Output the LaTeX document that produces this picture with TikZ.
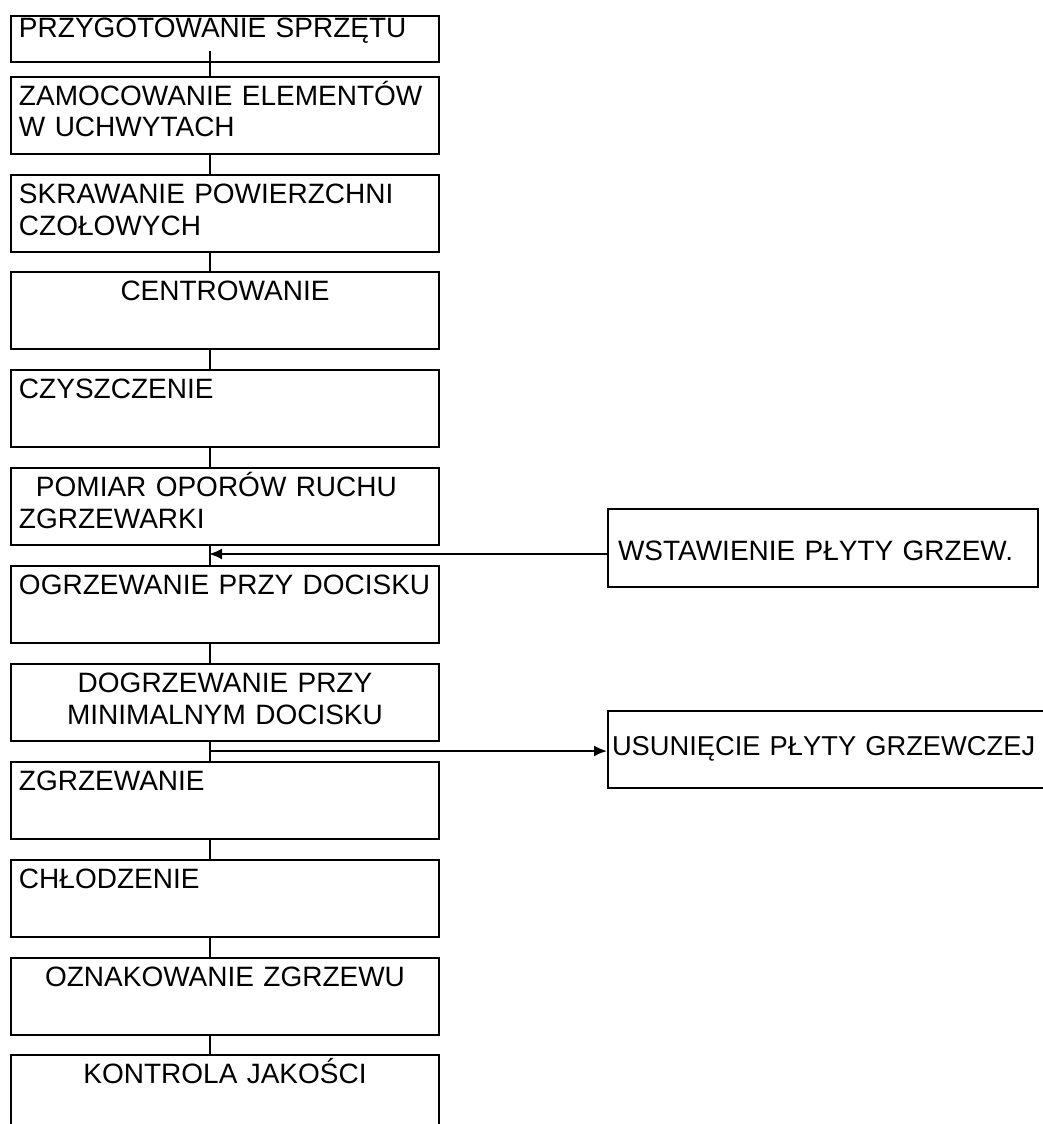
\documentclass[tikz,border=0pt]{standalone}
\usepackage{fontspec}
\setmainfont{Liberation Sans}
\usetikzlibrary{arrows.meta}

\tikzset{
  stepbox/.style={draw, line width=2pt, anchor=north west, inner xsep=8pt, inner ysep=0pt,
    text width=412pt, minimum width=428pt, align=left, text height=28pt, text depth=49pt,
    font=\fontsize{28}{32}\selectfont},
  conn/.style={line width=1.6pt},
  side/.style={line width=2pt, -{Latex[length=13pt,width=11pt]}}
}

\begin{document}
\begin{tikzpicture}[x=1pt,y=-1pt]
\useasboundingbox (0,0) rectangle (1043,1124);

\node[stepbox, text height=22pt, text depth=24pt] (s1) at (10,15) {PRZYGOTOWANIE SPRZĘTU};
\node[stepbox] (s2) at (10,76) {ZAMOCOWANIE ELEMENTÓW\\W UCHWYTACH};
\node[stepbox] (s3) at (10,174) {SKRAWANIE POWIERZCHNI\\CZOŁOWYCH};
\node[stepbox, align=center] (s4) at (10,271) {CENTROWANIE};
\node[stepbox] (s5) at (10,369) {CZYSZCZENIE};
\node[stepbox] (s6) at (10,467) {\hspace*{17pt}POMIAR OPORÓW RUCHU\\ZGRZEWARKI};
\node[stepbox] (s7) at (10,565) {OGRZEWANIE PRZY DOCISKU};
\node[stepbox, align=center] (s8) at (10,663) {DOGRZEWANIE PRZY\\MINIMALNYM DOCISKU};
\node[stepbox] (s9) at (10,761) {ZGRZEWANIE};
\node[stepbox] (s10) at (10,859) {CHŁODZENIE};
\node[stepbox, align=center] (s11) at (10,957) {OZNAKOWANIE ZGRZEWU};
\node[stepbox, align=center] (s12) at (10,1054) {KONTROLA JAKOŚCI};

\node[stepbox, text width=410pt, minimum width=430pt, inner xsep=10pt,
  text height=51pt, text depth=27pt] (w1) at (607,508) {WSTAWIENIE PŁYTY GRZEW.};
\node[stepbox, text width=464pt, minimum width=472pt, inner xsep=4pt,
  text height=44pt, text depth=33pt, font=\fontsize{27.3}{32}\selectfont] (w2) at (607,710)
  {USUNIĘCIE PŁYTY GRZEWCZEJ};

\coordinate (j1) at (209,554);
\coordinate (j2) at (209,751);

\path[conn]
  ([xshift=-15pt,yshift=12pt]s1.south) edge ([xshift=-15pt]s2.north)
  ([xshift=-15pt]s2.south) edge ([xshift=-15pt]s3.north)
  ([xshift=-15pt]s3.south) edge ([xshift=-15pt]s4.north)
  ([xshift=-15pt]s4.south) edge ([xshift=-15pt]s5.north)
  ([xshift=-15pt]s5.south) edge ([xshift=-15pt]s6.north)
  ([xshift=-15pt]s6.south) edge ([xshift=-15pt]s7.north)
  ([xshift=-15pt]s7.south) edge ([xshift=-15pt]s8.north)
  ([xshift=-15pt]s8.south) edge ([xshift=-15pt]s9.north)
  ([xshift=-15pt]s9.south) edge ([xshift=-15pt]s10.north)
  ([xshift=-15pt]s10.south) edge ([xshift=-15pt]s11.north)
  ([xshift=-15pt]s11.south) edge ([xshift=-15pt]s12.north);

\draw[side] (w1.west |- j1) -- (j1);
\draw[side] (j2) -- (w2.west |- j2);

\end{tikzpicture}
\end{document}
